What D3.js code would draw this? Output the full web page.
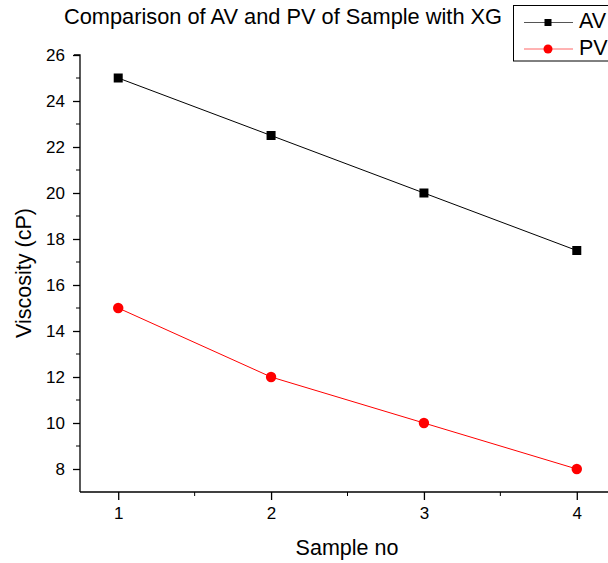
<!DOCTYPE html>
<html><head><meta charset="utf-8">
<script src="https://cdn.jsdelivr.net/npm/d3@7"></script>
<style>body{margin:0;background:#fff}svg{display:block;font-family:Arial,"Liberation Sans",sans-serif}</style>
</head><body><div id="c"></div>
<script>
const samples = [1, 2, 3, 4];
const av = [25, 22.5, 20, 17.5];
const pv = [15, 12, 10, 8];
const yTicks = [8, 10, 12, 14, 16, 18, 20, 22, 24, 26];
const title = "Comparison of AV and PV of Sample with XG";

const W = 608, H = 563;
const svg = d3.select("#c").append("svg").attr("width", W).attr("height", H);
const x = d3.scaleLinear().domain([0.75, 4.25]).range([80, 615]);
const y = d3.scaleLinear().domain([7, 26]).range([492, 55]);

// axes
const xAxis = d3.axisBottom(x).tickValues(samples).tickSize(6).tickFormat(d3.format("d"));
const gx = svg.append("g").attr("transform", "translate(0,492)").call(xAxis);
gx.select(".domain").attr("d", "M80,0H615");
gx.selectAll(".tick line").attr("y1", 0).attr("y2", 8);
gx.selectAll(".tick text").attr("y", 15).attr("font-size", 17).attr("font-family", "Arial, Liberation Sans");
svg.append("g").attr("transform", "translate(0,492)").selectAll("line.mx")
  .data([1.5, 2.5, 3.5]).join("line")
  .attr("x1", d => x(d)).attr("x2", d => x(d)).attr("y1", 0).attr("y2", 4).attr("stroke", "#000");

const yAxis = d3.axisLeft(y).tickValues(yTicks).tickSize(6).tickFormat(d3.format("d"));
const gy = svg.append("g").attr("transform", "translate(80,0)").call(yAxis);
gy.select(".domain").attr("d", "M0,492V55H-6");
gy.selectAll(".tick line").attr("x2", -7);
gy.selectAll(".tick text").attr("x", -15).attr("font-size", 17).attr("font-family", "Arial, Liberation Sans");
svg.append("g").attr("transform", "translate(80,0)").selectAll("line.my")
  .data(d3.range(9, 26, 2)).join("line")
  .attr("x1", 0).attr("x2", -4).attr("y1", d => y(d)).attr("y2", d => y(d)).attr("stroke", "#000");
svg.selectAll(".domain, .tick line").attr("stroke-width", 1.3);

// series
const line = d3.line().x((d, i) => x(samples[i])).y(d => y(d));
svg.append("path").datum(av).attr("d", line).attr("fill", "none").attr("stroke", "#000").attr("stroke-width", 1);
svg.append("path").datum(pv).attr("d", line).attr("fill", "none").attr("stroke", "#f00").attr("stroke-width", 1);
svg.selectAll("rect.av").data(av).join("rect")
  .attr("x", (d, i) => x(samples[i]) - 4.5).attr("y", d => y(d) - 4.5)
  .attr("width", 9).attr("height", 9).attr("fill", "#000");
svg.selectAll("circle.pv").data(pv).join("circle")
  .attr("cx", (d, i) => x(samples[i])).attr("cy", d => y(d)).attr("r", 5.2).attr("fill", "#f00");

// labels
svg.append("text").attr("x", 283).attr("y", 24).attr("text-anchor", "middle").attr("font-size", 21.8).text(title);
svg.append("text").attr("x", 347).attr("y", 555).attr("text-anchor", "middle").attr("font-size", 21.5).text("Sample no");
svg.append("text").attr("transform", "translate(31,273) rotate(-90)").attr("text-anchor", "middle").attr("font-size", 21.5).text("Viscosity (cP)");

// legend
const lg = svg.append("g");
lg.append("rect").attr("x", 513.5).attr("y", 5.5).attr("width", 100).attr("height", 55.5).attr("fill", "#fff").attr("stroke", "#000").attr("stroke-width", 1);
lg.append("line").attr("x1", 524).attr("x2", 573).attr("y1", 22.5).attr("y2", 22.5).attr("stroke", "#555");
lg.append("rect").attr("x", 544.5).attr("y", 19).attr("width", 7).attr("height", 7).attr("fill", "#000");
lg.append("text").attr("x", 579).attr("y", 28).attr("font-size", 21.5).text("AV");
lg.append("line").attr("x1", 524).attr("x2", 573).attr("y1", 49).attr("y2", 49).attr("stroke", "#f66");
lg.append("circle").attr("cx", 548).attr("cy", 49).attr("r", 4.5).attr("fill", "#f00");
lg.append("text").attr("x", 579).attr("y", 55).attr("font-size", 21.5).text("PV");
</script></body></html>
